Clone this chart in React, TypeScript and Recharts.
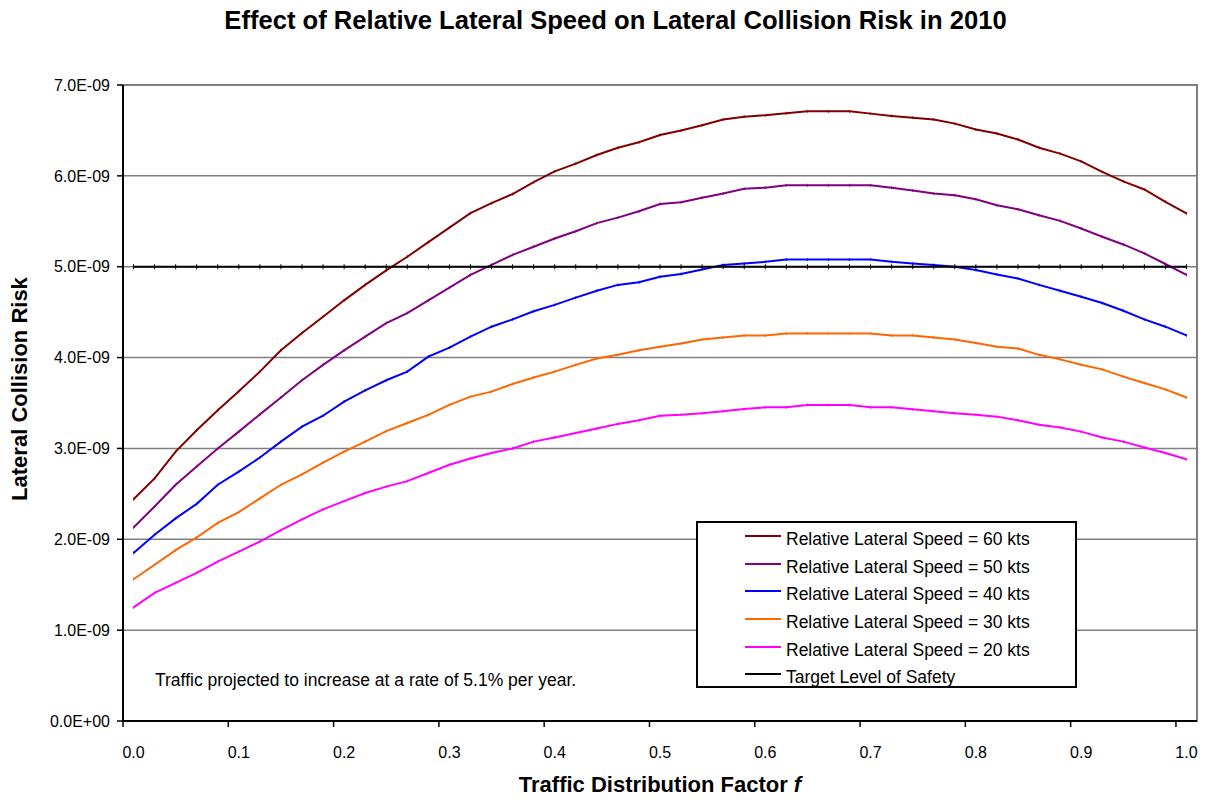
import React from 'react';
import { LineChart, Line, XAxis, YAxis, CartesianGrid, Legend, ReferenceArea } from 'recharts';

// Traffic distribution factor f (category values)
const trafficFactor = [
  0.0, 0.02, 0.04, 0.06, 0.08, 0.1, 0.12, 0.14, 0.16, 0.18, 0.2, 0.22, 0.24, 0.26, 0.28, 0.3, 0.32,
  0.34, 0.36, 0.38, 0.4, 0.42, 0.44, 0.46, 0.48, 0.5, 0.52, 0.54, 0.56, 0.58, 0.6, 0.62, 0.64, 0.66,
  0.68, 0.7, 0.72, 0.74, 0.76, 0.78, 0.8, 0.82, 0.84, 0.86, 0.88, 0.9, 0.92, 0.94, 0.96, 0.98, 1.0,
];

// Lateral collision risk, in units of 1E-09
const speed60 = [
  2.44, 2.67, 2.965, 3.2, 3.42, 3.63, 3.845, 4.08, 4.27, 4.45, 4.63, 4.8, 4.96,
  5.11, 5.27, 5.43, 5.59, 5.7, 5.8, 5.93, 6.05, 6.135, 6.23, 6.31, 6.37, 6.45,
  6.5, 6.557, 6.62, 6.65, 6.667, 6.69, 6.71, 6.71, 6.71, 6.685, 6.66, 6.64, 6.62,
  6.575, 6.51, 6.466, 6.4, 6.31, 6.245, 6.16, 6.044, 5.94, 5.85, 5.714, 5.586,
];
const speed50 = [
  2.13, 2.36, 2.6, 2.8, 3.0, 3.185, 3.375, 3.56, 3.75, 3.92, 4.08, 4.23, 4.38,
  4.49, 4.63, 4.77, 4.91, 5.02, 5.13, 5.22, 5.31, 5.39, 5.48, 5.54, 5.61, 5.69,
  5.71, 5.76, 5.806, 5.857, 5.87, 5.897, 5.897, 5.897, 5.897, 5.897, 5.87, 5.84, 5.806,
  5.787, 5.743, 5.677, 5.633, 5.567, 5.505, 5.42, 5.33, 5.245, 5.146, 5.03, 4.91,
];
const speed40 = [
  1.85, 2.05, 2.23, 2.39, 2.6, 2.745, 2.9, 3.075, 3.24, 3.36, 3.515, 3.64, 3.75,
  3.845, 4.01, 4.11, 4.23, 4.34, 4.42, 4.51, 4.58, 4.66, 4.735, 4.8, 4.83, 4.89,
  4.92, 4.97, 5.02, 5.036, 5.054, 5.08, 5.08, 5.08, 5.08, 5.08, 5.054, 5.036, 5.02,
  5.0, 4.963, 4.915, 4.87, 4.8, 4.735, 4.67, 4.6, 4.515, 4.42, 4.34, 4.244,
];
const speed30 = [
  1.56, 1.72, 1.88, 2.02, 2.18, 2.3, 2.45, 2.6, 2.715, 2.845, 2.965, 3.075, 3.19,
  3.28, 3.37, 3.48, 3.57, 3.625, 3.71, 3.78, 3.845, 3.92, 3.99, 4.03, 4.08, 4.12,
  4.156, 4.2, 4.22, 4.244, 4.244, 4.266, 4.266, 4.266, 4.266, 4.266, 4.244, 4.244, 4.22,
  4.2, 4.16, 4.12, 4.1, 4.03, 3.98, 3.92, 3.87, 3.79, 3.72, 3.65, 3.56,
];
const speed20 = [
  1.25, 1.41, 1.52, 1.63, 1.755, 1.865, 1.975, 2.1, 2.22, 2.33, 2.42, 2.51, 2.58,
  2.64, 2.73, 2.82, 2.89, 2.95, 3.0, 3.075, 3.12, 3.17, 3.22, 3.27, 3.31, 3.36,
  3.37, 3.386, 3.41, 3.434, 3.452, 3.452, 3.478, 3.478, 3.478, 3.452, 3.452, 3.43, 3.41,
  3.386, 3.37, 3.35, 3.31, 3.26, 3.23, 3.185, 3.12, 3.075, 3.01, 2.95, 2.88,
];
const targetLevel = 5.0; // Target Level of Safety, 5.0E-09

const xTickLabels = [0.0, 0.1, 0.2, 0.3, 0.4, 0.5, 0.6, 0.7, 0.8, 0.9, 1.0];
const yTickValues = [0, 1, 2, 3, 4, 5, 6, 7];

const series = [
  { key: 's60', name: 'Relative Lateral Speed = 60 kts', color: '#800000', values: speed60 },
  { key: 's50', name: 'Relative Lateral Speed = 50 kts', color: '#800080', values: speed50 },
  { key: 's40', name: 'Relative Lateral Speed = 40 kts', color: '#0000FF', values: speed40 },
  { key: 's30', name: 'Relative Lateral Speed = 30 kts', color: '#FF6600', values: speed30 },
  { key: 's20', name: 'Relative Lateral Speed = 20 kts', color: '#FF00FF', values: speed20 },
  { key: 'tls', name: 'Target Level of Safety', color: '#000000', values: trafficFactor.map(() => targetLevel) },
];

const data = trafficFactor.map((f, i) => {
  const row: Record<string, number> = { f };
  series.forEach((s) => {
    row[s.key] = s.values[i];
  });
  return row;
});

const halfStep = (trafficFactor[1] - trafficFactor[0]) / 2;
const xDomain = [trafficFactor[0] - halfStep, trafficFactor[trafficFactor.length - 1] + halfStep];
const boundaryTicks = xTickLabels.map((t) => +(t - halfStep).toFixed(4));
const allXTicks = [...boundaryTicks, ...xTickLabels].sort((a, b) => a - b);

const FONT = '"Liberation Sans", Arial, Helvetica, sans-serif';

const fmtSci = (v: number) => {
  const [m, e] = (v * 1e-9).toExponential(1).split('e');
  const n = parseInt(e, 10);
  return `${m}E${n < 0 ? '-' : '+'}${String(Math.abs(n)).padStart(2, '0')}`;
};

const XTick = (props: any) => {
  const { x, y, payload } = props;
  const v = payload.value as number;
  const isLabel = xTickLabels.some((t) => Math.abs(t - v) < 1e-6);
  if (isLabel) {
    return (
      <text x={x} y={y + 37} textAnchor="middle" fontSize={16} fill="#000" fontFamily={FONT}>
        {v.toFixed(1)}
      </text>
    );
  }
  return <line x1={x} x2={x} y1={y} y2={y + 6} stroke="#000" strokeWidth={1.5} />;
};

const YTick = (props: any) => {
  const { x, y, payload } = props;
  return (
    <text x={x} y={y} dy="0.36em" textAnchor="end" fontSize={16} fill="#000" fontFamily={FONT}>
      {fmtSci(payload.value)}
    </text>
  );
};

const makeDot = (color: string, half: number, width: number) => (p: any) => (
  <line
    key={`d-${p.index}`}
    x1={p.cx}
    x2={p.cx}
    y1={p.cy - half}
    y2={p.cy + half}
    stroke={color}
    strokeWidth={width}
  />
);

const LegendBox = () => (
  <div
    style={{
      boxSizing: 'border-box',
      width: 381,
      height: 167,
      border: '2px solid #000',
      background: '#fff',
      paddingTop: 3,
      paddingLeft: 47,
      fontFamily: FONT,
      fontSize: 17.5,
      color: '#000',
    }}
  >
    {series.map((s) => (
      <div
        key={s.key}
        style={{ display: 'flex', alignItems: 'center', height: 27.7, lineHeight: '27.7px', whiteSpace: 'nowrap' }}
      >
        <svg width={36} height={4} style={{ transform: 'translateY(-4px)', marginRight: 5, flex: 'none' }}>
          <line x1={0} x2={36} y1={2} y2={2} stroke={s.color} strokeWidth={2} />
        </svg>
        <span>{s.name}</span>
      </div>
    ))}
  </div>
);

export default function App() {
  return (
    <div style={{ position: 'relative', width: 1193, height: 784, fontFamily: FONT, color: '#000' }}>
      <LineChart
        width={1193}
        height={784}
        data={data}
        margin={{ top: 77, right: 4, bottom: 0, left: 0 }}
      >
        <CartesianGrid vertical={false} stroke="#808080" strokeWidth={1.5} />
        <ReferenceArea
          x1={xDomain[0]}
          x2={xDomain[1]}
          y1={0}
          y2={7}
          fill="none"
          fillOpacity={0}
          stroke="#808080"
          strokeWidth={2}
        />
        <XAxis
          dataKey="f"
          type="number"
          domain={xDomain}
          ticks={allXTicks}
          interval={0}
          height={71}
          tickSize={0}
          tickMargin={0}
          tickLine={false}
          axisLine={{ stroke: '#000', strokeWidth: 2 }}
          tick={<XTick />}
          allowDataOverflow
        />
        <YAxis
          type="number"
          domain={[0, 7]}
          ticks={yTickValues}
          interval={0}
          width={115}
          tickSize={6}
          tickMargin={7}
          tick={<YTick />}
          tickLine={{ stroke: '#000', strokeWidth: 1.5 }}
          axisLine={{ stroke: '#000', strokeWidth: 2 }}
          allowDataOverflow
        />
        {series.map((s) => (
          <Line
            key={s.key}
            dataKey={s.key}
            name={s.name}
            type="linear"
            stroke={s.color}
            strokeWidth={2}
            dot={s.key === 'tls' ? makeDot(s.color, 2.5, 1) : makeDot(s.color, 1.5, 0.8)}
            activeDot={false}
            isAnimationActive={false}
          />
        ))}
        <Legend
          layout="vertical"
          align="center"
          verticalAlign="middle"
          wrapperStyle={{ left: 688, top: 513, width: 381, height: 167 }}
          content={() => <LegendBox />}
        />
      </LineChart>

      <div
        style={{
          position: 'absolute',
          left: 107.5,
          width: 1000,
          top: 0,
          textAlign: 'center',
          fontSize: 25.6,
          lineHeight: '25px',
          fontWeight: 'bold',
          whiteSpace: 'nowrap',
        }}
      >
        Effect of Relative Lateral Speed on Lateral Collision Risk in 2010
      </div>

      <div
        style={{
          position: 'absolute',
          left: 152,
          width: 1000,
          top: 766,
          textAlign: 'center',
          fontSize: 22,
          lineHeight: '22px',
          fontWeight: 'bold',
          whiteSpace: 'nowrap',
        }}
      >
        Traffic Distribution Factor <i>f</i>
      </div>

      <div
        style={{
          position: 'absolute',
          left: 12 - 150,
          top: 381 - 11,
          width: 300,
          height: 22,
          textAlign: 'center',
          fontSize: 22,
          lineHeight: '22px',
          fontWeight: 'bold',
          whiteSpace: 'nowrap',
          transform: 'rotate(-90deg)',
        }}
      >
        Lateral Collision Risk
      </div>

      <div
        style={{
          position: 'absolute',
          left: 147,
          top: 663.5,
          fontSize: 17.5,
          lineHeight: '17.5px',
          whiteSpace: 'nowrap',
        }}
      >
        Traffic projected to increase at a rate of 5.1% per year.
      </div>
    </div>
  );
}
